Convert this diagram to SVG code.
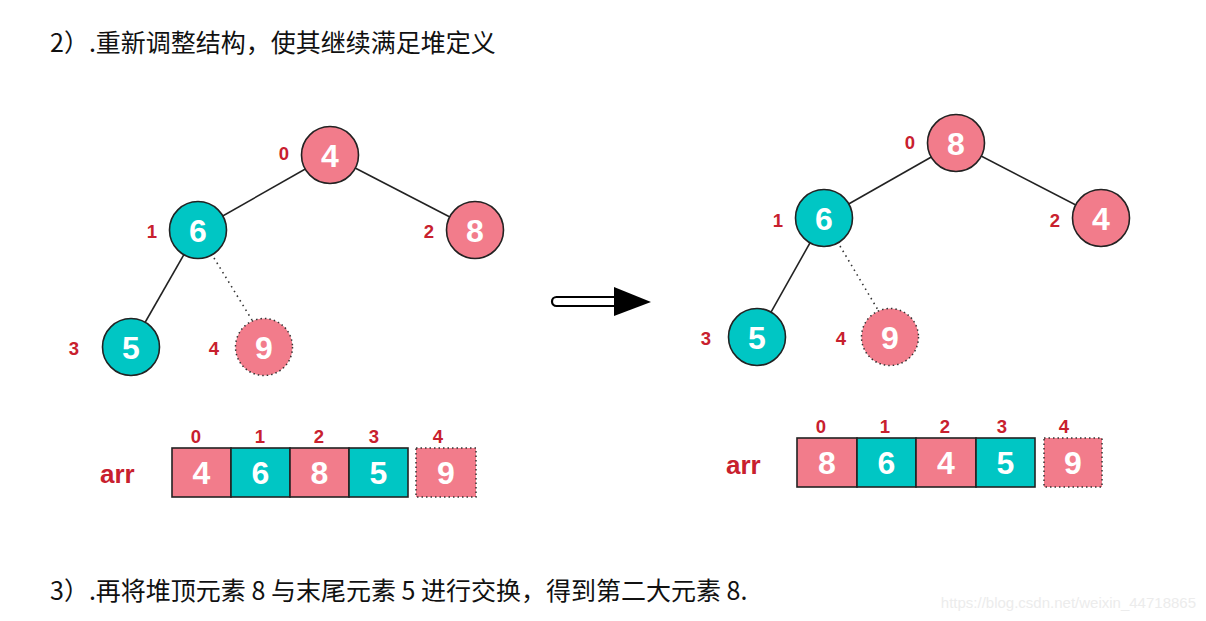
<svg xmlns="http://www.w3.org/2000/svg" width="1206" height="621" viewBox="0 0 1206 621">
<style>
.cap{font-family:"Noto Sans CJK SC","Liberation Sans",sans-serif;font-size:25px;fill:#111}
.pk{fill:#F27C8B;stroke:#222;stroke-width:1.6}
.tl{fill:#00C6C4;stroke:#222;stroke-width:1.6}
.dash{fill:#F27C8B;stroke:#333;stroke-width:1.5;stroke-dasharray:1.5 3}
.v{font-family:"Liberation Sans",Arial,sans-serif;font-weight:bold;font-size:32px;fill:#fff;text-anchor:middle;dominant-baseline:central}
.i{font-family:"Liberation Sans",Arial,sans-serif;font-weight:bold;font-size:18.5px;fill:#C8202E;text-anchor:middle;dominant-baseline:central}
.arr{font-family:"Liberation Sans",Arial,sans-serif;font-weight:bold;font-size:26px;fill:#C8202E;dominant-baseline:central}
.e{stroke:#222;stroke-width:1.6;fill:none}
.ed{stroke:#333;stroke-width:1.6;stroke-dasharray:1.5 4;fill:none}
</style>
<rect width="1206" height="621" fill="#fff"/>
<text class="cap" x="50" y="52">2）.重新调整结构，使其继续满足堆定义</text>
<text class="cap" x="50" y="600">3）.再将堆顶元素 8 与末尾元素 5 进行交换，得到第二大元素 8.</text>
<text x="1196" y="608" font-family="Liberation Sans,Arial,sans-serif" font-size="15" fill="#ececec" text-anchor="end">https://blog.csdn.net/weixin_44718865</text>

<g id="connectors">
<line class="e" x1="330" y1="155" x2="198" y2="230"/>
<line class="e" x1="330" y1="155" x2="475" y2="230"/>
<line class="e" x1="198" y1="230" x2="131" y2="347"/>
<line class="ed" x1="214" y1="258" x2="252" y2="320"/>
<line class="e" x1="956" y1="143" x2="824" y2="218"/>
<line class="e" x1="956" y1="143" x2="1101" y2="218"/>
<line class="e" x1="824" y1="218" x2="757" y2="337"/>
<line class="ed" x1="840" y1="246" x2="878" y2="310"/>
</g>

<g id="left-n0"><circle class="pk" cx="330" cy="155" r="28.5"/><text class="v" x="330" y="156">4</text><text class="i" x="284" y="153">0</text></g>
<g id="left-n1"><circle class="tl" cx="198" cy="230" r="28.5"/><text class="v" x="198" y="231">6</text><text class="i" x="152" y="231">1</text></g>
<g id="left-n2"><circle class="pk" cx="475" cy="230" r="28.5"/><text class="v" x="475" y="231">8</text><text class="i" x="429" y="231">2</text></g>
<g id="left-n3"><circle class="tl" cx="131" cy="347" r="28.5"/><text class="v" x="131" y="348">5</text><text class="i" x="74" y="348">3</text></g>
<g id="left-n4"><circle class="dash" cx="264" cy="347" r="28.5"/><text class="v" x="264" y="348">9</text><text class="i" x="214" y="348">4</text></g>

<g id="right-n0"><circle class="pk" cx="956" cy="143" r="28.5"/><text class="v" x="956" y="144">8</text><text class="i" x="910" y="142">0</text></g>
<g id="right-n1"><circle class="tl" cx="824" cy="218" r="28.5"/><text class="v" x="824" y="219">6</text><text class="i" x="778" y="220">1</text></g>
<g id="right-n2"><circle class="pk" cx="1101" cy="218" r="28.5"/><text class="v" x="1101" y="219">4</text><text class="i" x="1055" y="220">2</text></g>
<g id="right-n3"><circle class="tl" cx="757" cy="337" r="28.5"/><text class="v" x="757" y="338">5</text><text class="i" x="706" y="338">3</text></g>
<g id="right-n4"><circle class="dash" cx="890" cy="337" r="28.5"/><text class="v" x="890" y="338">9</text><text class="i" x="841" y="338">4</text></g>

<g id="arrow">
<rect x="552" y="297" width="66" height="9" rx="4.5" fill="#fff" stroke="#000" stroke-width="2.2"/>
<polygon points="614,287 651,302 614,316" fill="#000"/>
</g>

<g id="left-array">
<text class="arr" x="100" y="474">arr</text>
<rect class="pk" x="172" y="448" width="59" height="49"/><text class="v" x="201.5" y="473">4</text>
<rect class="tl" x="231" y="448" width="59" height="49"/><text class="v" x="260.5" y="473">6</text>
<rect class="pk" x="290" y="448" width="59" height="49"/><text class="v" x="319.5" y="473">8</text>
<rect class="tl" x="349" y="448" width="59" height="49"/><text class="v" x="378.5" y="473">5</text>
<rect class="dash" x="416" y="448" width="60" height="49"/><text class="v" x="446" y="473">9</text>
<text class="i" x="196" y="436">0</text><text class="i" x="260" y="436">1</text><text class="i" x="319" y="436">2</text><text class="i" x="374" y="436">3</text><text class="i" x="438" y="436">4</text>
</g>

<g id="right-array">
<text class="arr" x="726" y="465">arr</text>
<rect class="pk" x="797" y="438" width="60" height="49"/><text class="v" x="827" y="463">8</text>
<rect class="tl" x="857" y="438" width="59" height="49"/><text class="v" x="886.5" y="463">6</text>
<rect class="pk" x="916" y="438" width="60" height="49"/><text class="v" x="946" y="463">4</text>
<rect class="tl" x="976" y="438" width="59" height="49"/><text class="v" x="1005.5" y="463">5</text>
<rect class="dash" x="1044" y="438" width="58" height="49"/><text class="v" x="1073" y="463">9</text>
<text class="i" x="821" y="426">0</text><text class="i" x="885" y="426">1</text><text class="i" x="945" y="426">2</text><text class="i" x="1002" y="426">3</text><text class="i" x="1064" y="426">4</text>
</g>
</svg>
